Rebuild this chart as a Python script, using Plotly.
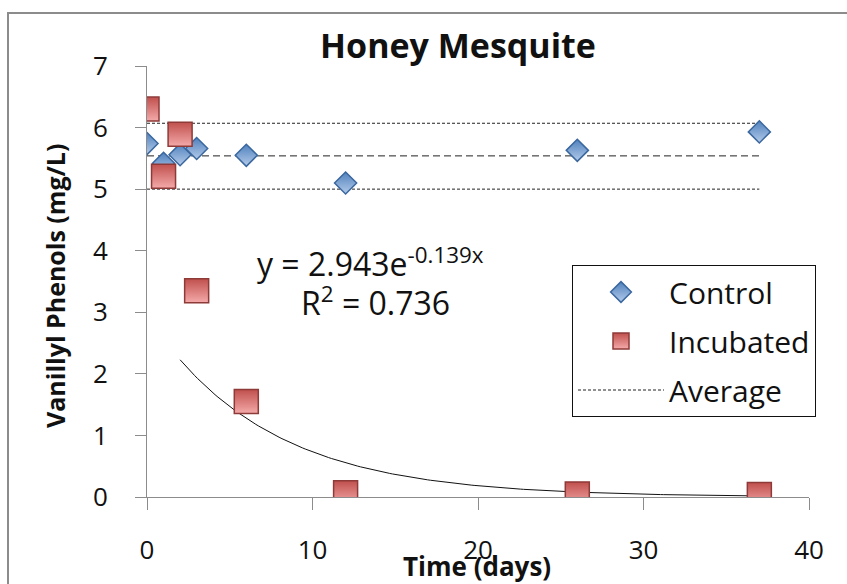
import numpy as np
import plotly.graph_objects as go

# ---- data ----
days_control = [0, 1, 2, 3, 6, 12, 26, 37]
control = [5.74, 5.42, 5.56, 5.66, 5.55, 5.10, 5.63, 5.93]

days_incubated = [0, 1, 2, 3, 6, 12, 26, 37]
incubated = [6.30, 5.21, 5.89, 3.35, 1.55, 0.07, 0.05, 0.04]

avg_levels = [6.07, 5.54, 5.00]      # upper, mean, lower
avg_span = [0, 37]

fit_a, fit_b = 2.943, -0.139           # y = a*exp(b*x)
fit_span = [2, 37]
eq_line1 = "y = 2.943e<sup>-0.139x</sup>"
eq_line2 = "R<sup>2</sup> = 0.736"

x_ticks = [0, 10, 20, 30, 40]
y_ticks = [0, 1, 2, 3, 4, 5, 6, 7]

FONT = "Open Sans"
W, H = 847, 584
ML, MR, MT, MB = 147, 38, 66, 87
PW, PH = W - ML - MR, H - MT - MB

fig = go.Figure()

# average lines
dashes = ["3px,2px", "7px,4px", "3px,2px"]
for i, lvl in enumerate(avg_levels):
    fig.add_trace(go.Scatter(
        x=avg_span, y=[lvl, lvl], mode="lines",
        line=dict(color="#222222", width=1, dash=dashes[i]),
        name="Average", legendgroup="avg", showlegend=(i == 0),
        legendrank=3, hoverinfo="skip"))

# trendline
fx = np.linspace(fit_span[0], fit_span[1], 200)
fy = fit_a * np.exp(fit_b * fx)
fig.add_trace(go.Scatter(x=fx, y=fy, mode="lines",
                         line=dict(color="#111111", width=1),
                         showlegend=False, hoverinfo="skip"))

fig.add_trace(go.Scatter(
    x=days_control, y=control, mode="markers", name="Control",
    legendgroup="c", legendrank=1,
    marker=dict(symbol="diamond", size=17, color="#4F81BD",
                gradient=dict(type="vertical", color="#B4CBEA"),
                line=dict(color="#3A679E", width=1.5))))

fig.add_trace(go.Scatter(
    x=days_incubated, y=incubated, mode="markers", name="Incubated",
    legendgroup="i", legendrank=2,
    marker=dict(symbol="square", size=24, color="#C0504D",
                gradient=dict(type="vertical", color="#F4AAAA"),
                line=dict(color="#8E3A38", width=1.5))))

fig.add_annotation(x=13.5, y=3.82, text=eq_line1, showarrow=False,
                   font=dict(family=FONT, size=32, color="#111111"),
                   xanchor="center", yanchor="middle")
fig.add_annotation(x=13.8, y=3.19, text=eq_line2, showarrow=False,
                   font=dict(family=FONT, size=32, color="#111111"),
                   xanchor="center", yanchor="middle")

# axis titles
fig.add_annotation(xref="paper", yref="paper", x=(477 - ML) / PW, y=(497 - 566) / PH,
                   text="<b>Time (days)</b>", showarrow=False,
                   font=dict(family=FONT, size=26, color="#111111"),
                   xanchor="center", yanchor="middle")
fig.add_annotation(xref="paper", yref="paper", x=(55 - ML) / PW, y=(497 - 286) / PH,
                   text="<b>Vanillyl Phenols (mg/L)</b>", showarrow=False, textangle=-90,
                   font=dict(family=FONT, size=25, color="#111111"),
                   xanchor="center", yanchor="middle")

# chart area border (top and left visible)
fig.add_shape(type="rect", xref="paper", yref="paper",
              x0=(8 - ML) / PW, x1=(W + 20 - ML) / PW,
              y0=(497 - H - 20) / PH, y1=(497 - 13) / PH,
              line=dict(color="#8C8C8C", width=2), fillcolor="rgba(0,0,0,0)", layer="below")

fig.update_layout(
    width=W, height=H,
    margin=dict(l=ML, r=MR, t=MT, b=MB, autoexpand=False),
    paper_bgcolor="white", plot_bgcolor="white",
    title=dict(text="<b>Honey Mesquite</b>", x=458 / W, xanchor="center",
               y=1 - 46 / H, yanchor="middle",
               font=dict(family=FONT, size=34, color="#111111")),
    font=dict(family=FONT, color="#111111"),
    legend=dict(x=(572 - ML) / PW, y=(497 - 265) / PH, xanchor="left", yanchor="top",
                bordercolor="#111111", borderwidth=1, bgcolor="white",
                font=dict(family=FONT, size=30, color="#111111"),
                tracegroupgap=7, itemwidth=86, traceorder="grouped"),
    showlegend=True,
)
fig.update_xaxes(range=[0, 40], tickvals=x_ticks, showgrid=False, zeroline=False,
                 showline=True, linecolor="#8C8C8C", linewidth=1,
                 ticks="outside", ticklen=12, tickcolor="#8C8C8C",
                 ticklabelstandoff=18,
                 tickfont=dict(family=FONT, size=26, color="#111111"))
fig.update_yaxes(range=[0, 7], tickvals=y_ticks, showgrid=False, zeroline=False,
                 showline=True, linecolor="#8C8C8C", linewidth=1,
                 ticks="outside", ticklen=11, tickcolor="#8C8C8C",
                 ticklabelstandoff=22,
                 tickfont=dict(family=FONT, size=26, color="#111111"))

fig.write_html("out.html", config={"displayModeBar": False},
               post_script="document.body.style.margin='0px';document.body.style.overflow='hidden';")
